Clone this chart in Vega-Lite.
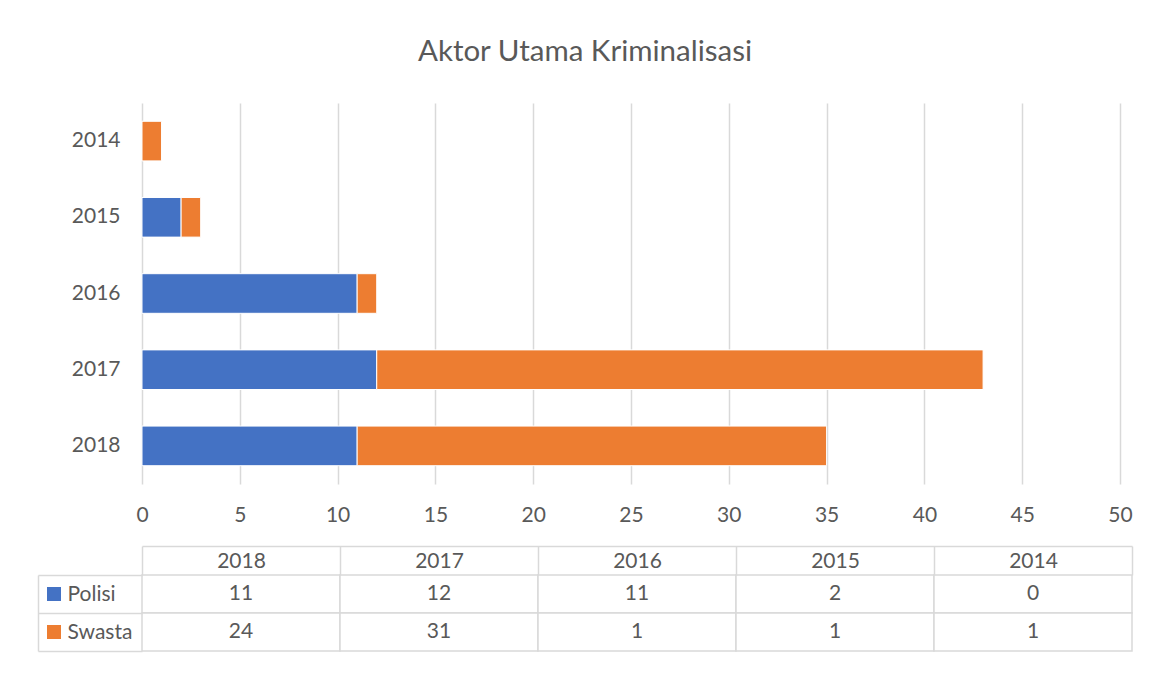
{
  "$schema": "https://vega.github.io/schema/vega-lite/v6.json",
  "padding": {"left": 37, "top": 36, "right": 5, "bottom": 5},
  "background": "white",
  "config": {
    "font": "Lato",
    "view": {"stroke": null},
    "axis": {"labelColor": "#595959", "labelFont": "Lato"}
  },
  "title": {
    "text": "Aktor Utama Kriminalisasi",
    "fontSize": 29.5,
    "fontWeight": "normal",
    "color": "#595959",
    "anchor": "middle",
    "offset": 36
  },
  "data": {
    "values": [
      {"year": "2018", "series": "Polisi", "value": 11},
      {"year": "2018", "series": "Swasta", "value": 24},
      {"year": "2017", "series": "Polisi", "value": 12},
      {"year": "2017", "series": "Swasta", "value": 31},
      {"year": "2016", "series": "Polisi", "value": 11},
      {"year": "2016", "series": "Swasta", "value": 1},
      {"year": "2015", "series": "Polisi", "value": 2},
      {"year": "2015", "series": "Swasta", "value": 1},
      {"year": "2014", "series": "Polisi", "value": 0},
      {"year": "2014", "series": "Swasta", "value": 1}
    ]
  },
  "spacing": 20,
  "vconcat": [
    {
      "width": 978,
      "height": 381,
      "mark": {"type": "bar", "stroke": "white", "strokeWidth": 1},
      "encoding": {
        "y": {
          "field": "year",
          "type": "nominal",
          "sort": ["2014", "2015", "2016", "2017", "2018"],
          "scale": {"paddingInner": 0.48, "paddingOuter": 0.24},
          "axis": {
            "title": null,
            "ticks": false,
            "domain": false,
            "grid": false,
            "labelPadding": 22,
            "labelFontSize": 21
          }
        },
        "x": {
          "field": "value",
          "type": "quantitative",
          "stack": "zero",
          "scale": {"domain": [0, 50], "nice": false},
          "axis": {
            "title": null,
            "values": [0, 5, 10, 15, 20, 25, 30, 35, 40, 45, 50],
            "grid": true,
            "gridColor": "#d9d9d9",
            "gridWidth": 1.5,
            "domain": false,
            "ticks": false,
            "labelPadding": 20,
            "labelFontSize": 21,
            "labelFlush": false
          }
        },
        "color": {
          "field": "series",
          "type": "nominal",
          "scale": {"domain": ["Polisi", "Swasta"], "range": ["#4472C4", "#ED7D31"]},
          "legend": null
        },
        "order": {"field": "series", "sort": "ascending"}
      }
    },
    {
      "width": 990,
      "height": 76,
      "encoding": {
        "x": {
          "field": "year",
          "type": "nominal",
          "sort": ["2018", "2017", "2016", "2015", "2014"],
          "scale": {"paddingInner": 0, "paddingOuter": 0},
          "axis": {
            "orient": "top",
            "title": null,
            "offset": 29,
            "tickSize": -29,
            "tickBand": "extent",
            "tickColor": "#d9d9d9",
            "tickWidth": 1.5,
            "domainColor": "#d9d9d9",
            "domainWidth": 1.5,
            "labelAngle": 0,
            "labelPadding": 14,
            "labelBaseline": "middle",
            "labelFontSize": 21,
            "grid": false
          }
        },
        "y": {
          "field": "series",
          "type": "nominal",
          "sort": ["Polisi", "Swasta"],
          "scale": {"paddingInner": 0, "paddingOuter": 0},
          "axis": {
            "orient": "left",
            "title": null,
            "offset": 104,
            "tickSize": -104,
            "tickBand": "extent",
            "tickColor": "#d9d9d9",
            "tickWidth": 1.5,
            "domainColor": "#d9d9d9",
            "domainWidth": 1.5,
            "labelAlign": "left",
            "labelBaseline": "middle",
            "labelPadding": 75,
            "labelFontSize": 21,
            "grid": false
          }
        }
      },
      "layer": [
        {
          "mark": {"type": "rect", "fill": "white", "stroke": "#d9d9d9", "strokeWidth": 1.5}
        },
        {
          "mark": {"type": "text", "fontSize": 21, "color": "#595959"},
          "encoding": {"text": {"field": "value", "type": "quantitative"}}
        },
        {
          "transform": [{"filter": "datum.year == '2018'"}],
          "mark": {"type": "point", "shape": "square", "filled": true, "size": 196, "opacity": 1, "xOffset": -187},
          "encoding": {
            "color": {
              "field": "series",
              "type": "nominal",
              "scale": {"domain": ["Polisi", "Swasta"], "range": ["#4472C4", "#ED7D31"]},
              "legend": null
            }
          }
        }
      ]
    }
  ]
}
